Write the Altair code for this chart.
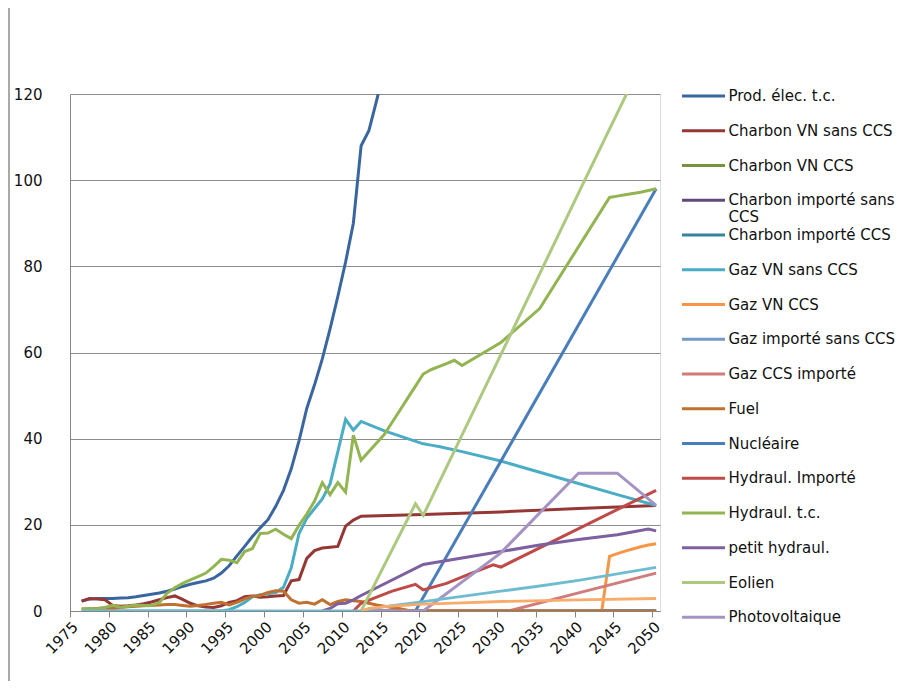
import altair as alt
import pandas as pd

# ---------------- series (legend order) ----------------
series_names = [
    "Prod. élec. t.c.", "Charbon VN sans CCS", "Charbon VN CCS",
    "Charbon importé sans CCS", "Charbon importé CCS", "Gaz VN sans CCS",
    "Gaz VN CCS", "Gaz importé sans CCS", "Gaz CCS importé", "Fuel",
    "Nucléaire", "Hydraul. Importé", "Hydraul. t.c.", "petit hydraul.",
    "Eolien", "Photovoltaique",
]
series_colors = [
    "#3A66A0", "#953735", "#77933C", "#604A7B", "#31859C", "#4BACC6",
    "#F79646", "#7399C6", "#D07C7A", "#C0702F", "#4A7EBB", "#BE4B48",
    "#92B552", "#7D60A0", "#ADC97F", "#A593C4",
]
extra_names = ["autre 1", "autre 2"]          # drawn but absent from the legend
extra_colors = ["#6FBCD1", "#F9AB6B"]

# ---------------- values ----------------
prod_years = list(range(1976, 2016))
prod_vals = [2.3, 2.8, 2.9, 2.9, 2.9, 3.0, 3.1, 3.3, 3.6, 3.9,
             4.2, 4.6, 5.1, 5.7, 6.2, 6.6, 7.0, 7.6, 8.8, 10.5,
             12.8, 15.0, 17.3, 19.3, 21.2, 24.3, 28.0, 33.0, 39.5, 47.0,
             52.5, 58.5, 65.5, 73.0, 81.0, 90.0, 108.0, 111.5, 118.5, 126.0]

charbon_vn_years = list(range(1976, 2013)) + [2020, 2030, 2040, 2050]
charbon_vn_vals = [2.3, 2.9, 2.8, 2.6, 1.3, 1.1, 1.2, 1.4, 1.7, 2.1,
                   2.6, 3.1, 3.5, 2.7, 1.8, 1.2, 0.9, 0.8, 1.2, 2.0,
                   2.4, 3.3, 3.5, 3.2, 3.3, 3.5, 3.6, 7.0, 7.3, 12.2,
                   14.0, 14.6, 14.8, 15.0, 19.7, 21.1, 22.0,
                   22.4, 23.0, 23.8, 24.5]

zero_years = [2012, 2050]
zero_vals = [0.0, 0.0]

gaz_vn_years = list(range(1994, 2013)) + [2015, 2020, 2021, 2022, 2025, 2030, 2035, 2040, 2045, 2050]
gaz_vn_vals = [0.0, 0.3, 1.0, 2.0, 3.3, 3.8, 4.0, 4.3, 5.5, 10.0,
               18.0, 21.5, 23.8, 26.0, 29.5, 37.0, 44.5, 42.0, 44.0,
               41.8, 38.8, 38.5, 38.2, 37.0, 34.8, 32.2, 29.6, 27.0, 24.5]
gaz_vn_start_years = [1976, 1994]
gaz_vn_start_vals = [0.0, 0.0]

gaz_vn_ccs_years = [2012, 2043, 2044, 2045, 2046, 2047, 2048, 2049, 2050]
gaz_vn_ccs_vals = [0.0, 0.0, 12.7, 13.3, 13.9, 14.4, 14.9, 15.3, 15.6]

gaz_ccs_imp_years = [2012, 2031, 2040, 2050]
gaz_ccs_imp_vals = [0.0, 0.0, 4.2, 8.8]

fuel_years = list(range(1976, 2020)) + [2050]
fuel_vals = [0.4, 0.5, 0.6, 0.7, 0.6, 0.8, 1.0, 1.1, 1.2, 1.3,
             1.4, 1.5, 1.5, 1.3, 1.1, 1.3, 1.5, 1.8, 2.0, 1.4,
             2.0, 2.8, 3.4, 3.6, 4.3, 4.7, 4.6, 2.6, 1.8, 2.0,
             1.6, 2.6, 1.5, 2.2, 2.6, 2.4, 2.2, 1.8, 1.4, 1.1,
             0.8, 0.5, 0.2, 0.0, 0.0]

nucl_years = [2019, 2050]
nucl_vals = [0.0, 98.0]

hyd_imp_years = [2011, 2012, 2014, 2016, 2019, 2020, 2023, 2026, 2029, 2030, 2050]
hyd_imp_vals = [0.0, 1.8, 3.2, 4.6, 6.2, 4.9, 6.4, 8.6, 10.7, 10.2, 28.0]

hyd_tc_years = list(range(1976, 2026)) + [2030, 2035, 2044, 2045, 2046, 2047, 2048, 2049, 2050]
hyd_tc_vals = [0.5, 0.5, 0.6, 0.8, 1.3, 0.9, 1.1, 1.4, 1.3, 1.3,
               1.9, 4.1, 5.4, 6.4, 7.2, 8.0, 8.8, 10.3, 12.0, 11.8,
               11.2, 13.8, 14.5, 18.0, 18.1, 19.0, 17.8, 16.8, 19.9, 22.5,
               25.5, 29.8, 27.0, 29.8, 27.6, 40.8, 35.0, 37.0, 39.0, 41.0,
               43.8, 46.6, 49.4, 52.2, 55.0, 56.0, 56.7, 57.4, 58.2, 57.0,
               62.3, 70.2, 96.0, 96.3, 96.6, 96.9, 97.2, 97.6, 98.0]

petit_hyd_years = [2007, 2008, 2009, 2010, 2011, 2012, 2020, 2025, 2030, 2035, 2040, 2045, 2049, 2050]
petit_hyd_vals = [0.0, 0.6, 1.7, 1.8, 2.6, 3.6, 10.8, 12.3, 13.8, 15.3, 16.6, 17.7, 19.0, 18.6]

eolien_years = [2012, 2019, 2020, 2030, 2040, 2047]
eolien_vals = [0.0, 24.9, 22.2, 59.5, 97.0, 123.0]

pv_years = [2012, 2020, 2030, 2040, 2045, 2050]
pv_vals = [0.0, 0.0, 13.5, 32.0, 32.0, 24.5]

extra1_years = [1976, 2012, 2013, 2015, 2020, 2025, 2030, 2035, 2040, 2045, 2050]
extra1_vals = [0.0, 0.0, 0.4, 1.0, 2.2, 3.4, 4.6, 5.8, 7.1, 8.6, 10.1]

extra2_years = [2012, 2013, 2015, 2020, 2025, 2030, 2040, 2050]
extra2_vals = [0.0, 0.6, 1.0, 1.6, 1.9, 2.2, 2.6, 2.9]

# ---------------- axis tick labels ----------------
year_labels = list(range(1975, 2051, 5))

# drawing order = legend order, extras last
draw_list = [
    ("Gaz VN sans CCS", gaz_vn_start_years, gaz_vn_start_vals),
    ("Prod. élec. t.c.", prod_years, prod_vals),
    ("Charbon VN sans CCS", charbon_vn_years, charbon_vn_vals),
    ("Charbon VN CCS", zero_years, zero_vals),
    ("Charbon importé sans CCS", zero_years, zero_vals),
    ("Charbon importé CCS", zero_years, zero_vals),
    ("Gaz VN sans CCS", gaz_vn_years, gaz_vn_vals),
    ("Gaz VN CCS", gaz_vn_ccs_years, gaz_vn_ccs_vals),
    ("Gaz importé sans CCS", zero_years, zero_vals),
    ("Gaz CCS importé", gaz_ccs_imp_years, gaz_ccs_imp_vals),
    ("Fuel", fuel_years, fuel_vals),
    ("Nucléaire", nucl_years, nucl_vals),
    ("Hydraul. Importé", hyd_imp_years, hyd_imp_vals),
    ("Hydraul. t.c.", hyd_tc_years, hyd_tc_vals),
    ("petit hydraul.", petit_hyd_years, petit_hyd_vals),
    ("Eolien", eolien_years, eolien_vals),
    ("Photovoltaique", pv_years, pv_vals),
]
extra_list = [
    (extra_names[0], extra1_years, extra1_vals, extra_colors[0]),
    (extra_names[1], extra2_years, extra2_vals, extra_colors[1]),
]

FONT = "DejaVu Sans"

x_enc = alt.X(
    "year:Q",
    scale=alt.Scale(domain=[1974.5, 2050.5], nice=False, zero=False),
    axis=alt.Axis(
        title=None,
        values=[y - 0.5 for y in year_labels],
        labelExpr="'' + (datum.value + 0.5)",
        labelAngle=-45,
        labelFontSize=15,
        labelFont=FONT,
        labelColor="#111111",
        labelPadding=2,
        grid=False,
        ticks=True,
        tickSize=6,
        tickColor="#868686",
        domainColor="#868686",
        labelOverlap=False,
    ),
)
y_enc = alt.Y(
    "value:Q",
    scale=alt.Scale(domain=[0, 120], nice=False),
    axis=alt.Axis(
        title=None,
        values=[0, 20, 40, 60, 80, 100, 120],
        labelFontSize=15,
        labelFont=FONT,
        labelColor="#111111",
        labelPadding=28,
        ticks=False,
        grid=True,
        gridColor="#8C8C8C",
        domainColor="#868686",
    ),
)
color_enc = alt.Color(
    "series:N",
    scale=alt.Scale(domain=series_names, range=series_colors),
    legend=alt.Legend(
        title=None,
        orient="none",
        legendX=624.5,
        legendY=-7,
        symbolType="M-2.945,0L2.945,0",
        symbolSize=213,
        symbolStrokeWidth=3,
        labelFontSize=15,
        labelFont=FONT,
        labelColor="#111111",
        labelOffset=16,
        labelLimit=400,
        rowPadding=0.75,
        padding=0,
        labelExpr="datum.label == 'Charbon importé sans CCS' ? ['Charbon importé sans', 'CCS'] : [datum.label, '']",
    ),
)

layers = []
for name, yrs, vals in draw_list:
    df = pd.DataFrame({"series": name, "year": yrs, "value": vals})
    layers.append(
        alt.Chart(df).mark_line(strokeWidth=3, clip=True).encode(
            x=x_enc, y=y_enc, color=color_enc
        )
    )
for name, yrs, vals, col in extra_list:
    df = pd.DataFrame({"series": name, "year": yrs, "value": vals})
    layers.append(
        alt.Chart(df).mark_line(strokeWidth=2.8, clip=True, color=col).encode(
            x=x_enc, y=y_enc
        )
    )

frame = alt.Chart(pd.DataFrame({"k": [0]})).mark_rule(
    color="#8C8C8C", strokeWidth=1.5, clip=False
).encode(x=alt.value(-61), y=alt.value(-86), y2=alt.value(595))

chart = alt.layer(frame, *layers).properties(
    width=590,
    height=517,
    padding={"left": 62, "top": 86, "right": 241, "bottom": 70},
    autosize=alt.AutoSizeParams(type="none"),
).configure_view(stroke=None).configure(background="white")

chart.save("out.html", embed_options={"renderer": "svg", "actions": False})
